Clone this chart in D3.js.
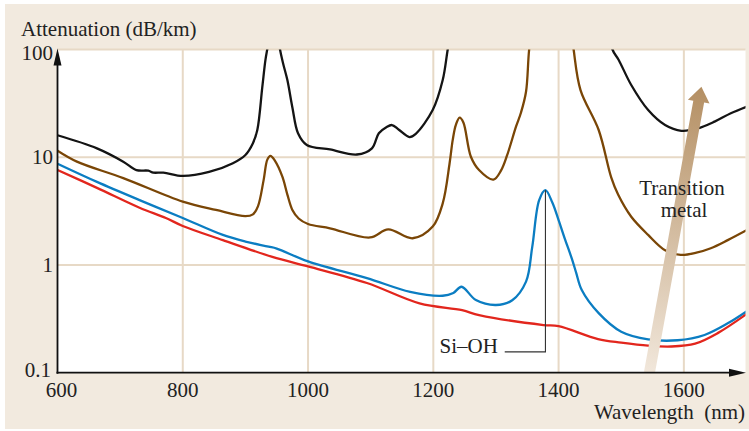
<!DOCTYPE html>
<html><head><meta charset="utf-8">
<script src="https://cdn.jsdelivr.net/npm/d3@7"></script>
<style>html,body{margin:0;padding:0;background:#fff;}svg{display:block;}</style>
</head><body><svg id="c" width="749" height="431"></svg>
<script>
// ---------- data ----------
const xTicks = [600, 800, 1000, 1200, 1400, 1600];
const yTicks = [0.1, 1, 10, 100];
const yTickLabels = ["0.1", "1", "10", "100"];

const redWl  = [600, 663, 731, 773, 800, 864, 943, 1000, 1094, 1178, 1246, 1273, 1376, 1400, 1463, 1500, 1543, 1580, 1618, 1654, 1700];
const redVal = [7.6, 5.2, 3.4, 2.73, 2.3, 1.70, 1.19, 0.97, 0.68, 0.44, 0.38, 0.343, 0.277, 0.27, 0.205, 0.19, 0.178, 0.175, 0.186, 0.233, 0.35];

const blueWl  = [600, 663, 731, 800, 864, 900, 937, 950, 1000, 1094, 1163, 1215, 1232, 1245, 1268, 1300, 1326, 1348, 1358, 1369, 1379, 1390, 1400, 1410, 1421, 1428, 1437, 1464, 1500, 1543, 1590, 1633, 1670, 1700];
const blueVal = [8.7, 5.9, 4.0, 2.73, 1.90, 1.65, 1.48, 1.42, 1.08, 0.755, 0.563, 0.518, 0.55, 0.628, 0.472, 0.425, 0.47, 0.70, 1.48, 4.0, 4.95, 3.8, 2.61, 1.75, 1.15, 0.85, 0.585, 0.357, 0.24, 0.204, 0.2, 0.224, 0.287, 0.37];

const brownWl  = [600, 631, 705, 800, 853, 900, 912, 920, 929, 935, 940, 947, 959, 967, 975, 985, 1000, 1035, 1099, 1128, 1167, 1199, 1215, 1226, 1231, 1236, 1242, 1248, 1260, 1273, 1296, 1308, 1318, 1332, 1340, 1348, 1353, 1360, 1418, 1424, 1435, 1464, 1484, 1495, 1516, 1543, 1570, 1595, 1620, 1643, 1670, 1700];
const brownVal = [11.5, 9.1, 6.4, 3.87, 3.24, 2.84, 2.95, 3.5, 6.1, 9.5, 10.3, 9.3, 6.6, 4.5, 3.24, 2.7, 2.4, 2.19, 1.8, 2.14, 1.77, 2.27, 3.73, 8.8, 14.5, 20, 23.3, 21, 10.1, 7.6, 6.2, 7.5, 10.5, 19.2, 26, 40.5, 100, 200, 200, 100, 42, 17.9, 6.5, 4.5, 2.8, 1.9, 1.37, 1.24, 1.3, 1.43, 1.7, 2.1];

const blackWl  = [600, 663, 705, 726, 745, 753, 769, 800, 842, 880, 900, 912, 919, 927, 932, 936, 942, 950, 954, 960, 967, 975, 984, 998, 1035, 1078, 1102, 1113, 1125, 1134, 1145, 1162, 1172, 1199, 1215, 1223, 1232, 1478, 1486, 1496, 1516, 1543, 1570, 1596, 1622, 1649, 1675, 1700];
const blackVal = [16, 12.1, 9.1, 7.6, 7.5, 7.2, 7.2, 6.7, 7.3, 8.8, 10.5, 13.5, 17.9, 45, 80, 110, 200, 200, 110, 75, 52, 29, 16.7, 13, 11.8, 10.6, 12.1, 16.7, 19, 19.9, 18, 15.4, 16.5, 27.4, 52, 100, 200, 200, 100, 80, 46.8, 27.4, 19.9, 17.6, 18.5, 21.4, 25.6, 29.4];

const seriesNames  = ["black", "brown", "blue", "red"];
const seriesColors = ["#141414", "#7a4606", "#0b7dc2", "#e2261d"];

// annotations (data coordinates)
const siohPeak = [1379, 4.95];
const siohCorner = [1379, 0.156];
const siohEnd = [1314, 0.156];
const siohLabel = [1210, 0.156];
const tmArrowFrom = [1545, 0.1];
const tmArrowTo = [1628, 45];
const tmLabel = [1597, 4.46];

// ---------- layout ----------
const svg = d3.select("#c");
const W = 749, H = 431;
const x = d3.scaleLinear().domain([600, 1700]).range([57.5, 746.5]);
const y = d3.scaleLog().domain([0.1, 100]).range([372.7, 49.5]);
const font = "'Liberation Serif','Times New Roman',serif";
const beige = "#f2eadf", grid = "#e7d9c6";

svg.append("rect").attr("x", 0).attr("y", 0).attr("width", W).attr("height", H).attr("fill", "#fff");
svg.append("rect").attr("x", 5).attr("y", 4).attr("width", W - 5).attr("height", H - 6).attr("fill", beige);

const x0 = x(600), x1 = x(1700), yTop = y(100), yBot = y(0.1);
svg.append("rect").attr("x", x0).attr("y", yTop).attr("width", x1 - x0 - 1).attr("height", yBot - yTop).attr("fill", "#fff");

// grid
const g = svg.append("g");
g.selectAll("line.v").data(xTicks.filter(d => d > 600)).enter().append("line")
  .attr("x1", d => x(d)).attr("x2", d => x(d)).attr("y1", yTop).attr("y2", yBot)
  .attr("stroke", grid).attr("stroke-width", 2);
g.selectAll("line.h").data([1, 10, 100]).enter().append("line")
  .attr("x1", x0).attr("x2", x1 - 1).attr("y1", d => y(d)).attr("y2", d => y(d))
  .attr("stroke", grid).attr("stroke-width", 2);

// clip
svg.append("clipPath").attr("id", "clip").append("rect")
  .attr("x", x0).attr("y", yTop).attr("width", x1 - x0 - 1).attr("height", yBot - yTop);

const series = [
  {wl: blackWl, v: blackVal},
  {wl: brownWl, v: brownVal},
  {wl: blueWl, v: blueVal},
  {wl: redWl, v: redVal}
];
const line = d3.line().x(d => x(d[0])).y(d => y(d[1])).curve(d3.curveCatmullRom.alpha(0.5));
const curves = svg.append("g").attr("clip-path", "url(#clip)");
series.forEach((s, i) => {
  curves.append("path").attr("d", line(s.wl.map((w, j) => [w, s.v[j]])))
    .attr("fill", "none").attr("stroke", seriesColors[i]).attr("stroke-width", 2.3)
    .attr("stroke-linejoin", "round").attr("stroke-linecap", "round");
});

// Si-OH annotation
svg.append("path")
  .attr("d", `M${x(siohPeak[0])},${y(siohPeak[1])}V${y(siohCorner[1])}H${x(siohEnd[0])}`)
  .attr("fill", "none").attr("stroke", "#333").attr("stroke-width", 1.1);
svg.append("text").attr("x", x(siohLabel[0])).attr("y", y(siohLabel[1]) + 1)
  .attr("font-family", font).attr("font-size", 21).attr("fill", "#222").text("Si–OH");

// Transition metal arrow
const defs = svg.append("defs");
const ax0 = x(tmArrowFrom[0]), ay0 = y(tmArrowFrom[1]), ax1 = x(tmArrowTo[0]), ay1 = y(tmArrowTo[1]);
const grad = defs.append("linearGradient").attr("id", "ag").attr("gradientUnits", "userSpaceOnUse")
  .attr("x1", ax0).attr("y1", ay0).attr("x2", ax1).attr("y2", ay1);
grad.append("stop").attr("offset", 0).attr("stop-color", "#f1e7db");
grad.append("stop").attr("offset", 1).attr("stop-color", "#b48f63");
{
  const dx = ax1 - ax0, dy = ay1 - ay0, L = Math.hypot(dx, dy);
  const ux = dx / L, uy = dy / L, nx = -uy, ny = ux;
  const hl = 15, hw = 11, sw = 5.5;
  const bx = ax1 - ux * hl, by = ay1 - uy * hl;
  const pts = [
    [ax0 + nx * sw, ay0 + ny * sw], [bx + nx * sw, by + ny * sw], [bx + nx * hw, by + ny * hw],
    [ax1, ay1], [bx - nx * hw, by - ny * hw], [bx - nx * sw, by - ny * sw], [ax0 - nx * sw, ay0 - ny * sw]
  ];
  svg.append("polygon").attr("points", pts.map(p => p.join(",")).join(" ")).attr("fill", "url(#ag)")
    .attr("clip-path", "url(#clip)");
}
const tl = svg.append("text").attr("font-family", font).attr("font-size", 21).attr("fill", "#222")
  .attr("text-anchor", "middle");
tl.append("tspan").attr("x", x(tmLabel[0])).attr("y", y(tmLabel[1])).text("Transition");
tl.append("tspan").attr("x", x(tmLabel[0]) + 2).attr("y", y(tmLabel[1]) + 22).text("metal");

// axes
svg.append("line").attr("x1", x0).attr("x2", x0).attr("y1", yBot + 1).attr("y2", yTop + 8)
  .attr("stroke", "#111").attr("stroke-width", 1.8);
svg.append("path").attr("d", `M${x0},${yTop - 1}L${x0 - 4},${yTop + 16}L${x0 + 4},${yTop + 16}Z`).attr("fill", "#111");
svg.append("line").attr("x1", x0 - 1).attr("x2", 735).attr("y1", yBot).attr("y2", yBot)
  .attr("stroke", "#111").attr("stroke-width", 1.8);
svg.append("path").attr("d", `M746,${yBot}L729,${yBot - 4}L729,${yBot + 4}Z`).attr("fill", "#111");

// tick labels
const yOff = [4.5, 7, 7, 10.5];
svg.selectAll("text.yt").data(yTicks).enter().append("text")
  .attr("x", (d, i) => i === 0 ? 51 : 53).attr("y", (d, i) => y(d) + yOff[i]).attr("text-anchor", "end")
  .attr("font-family", font).attr("font-size", 21).attr("fill", "#222").text((d, i) => yTickLabels[i]);
svg.selectAll("text.xt").data(xTicks).enter().append("text")
  .attr("x", d => x(d) + (d === 600 ? 4 : 0)).attr("y", 397).attr("text-anchor", "middle")
  .attr("font-family", font).attr("font-size", 21).attr("fill", "#222").text(d => d);

svg.append("text").attr("x", 21).attr("y", 36).attr("font-family", font).attr("font-size", 21)
  .attr("fill", "#222").text("Attenuation (dB/km)");
svg.append("text").attr("x", 745).attr("y", 419).attr("text-anchor", "end").attr("font-family", font)
  .attr("font-size", 21).attr("fill", "#222").attr("xml:space", "preserve").style("white-space", "pre").text("Wavelength  (nm)");
</script></body></html>
